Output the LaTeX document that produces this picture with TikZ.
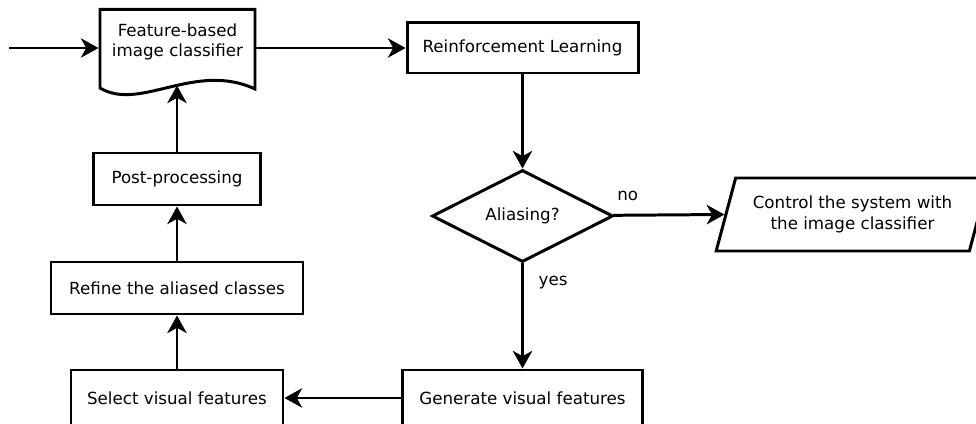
\documentclass[tikz,border=0pt]{standalone}
\usepackage{fontspec}
\setmainfont{DejaVu Sans}
\usetikzlibrary{shapes.geometric,arrows.meta,positioning,calc}

\begin{document}
\begin{tikzpicture}[
    font=\fontsize{9.5}{11.6}\selectfont,
    line width=1.7pt,
    >={Stealth[length=10pt,width=11pt,inset=3pt]},
    stepbox/.style = {rectangle, draw, minimum height=1.04cm, align=center, inner sep=2pt},
    decision/.style = {diamond, draw, minimum width=3.62cm, minimum height=1.84cm, inner sep=0pt, align=center},
    inout/.style = {trapezium, draw, trapezium left angle=70, trapezium right angle=110, trapezium stretches=true, minimum width=5.46cm, minimum height=1.46cm, align=center}
]
    \useasboundingbox (0,0) rectangle (19.52,8.46);
    % Document shape for the classifier
    \node[minimum width=3.1cm, minimum height=1.2cm, align=center] (classifier) at (3.55,7.62) {Feature-based\\image classifier};
    \draw (2.0,6.70) -- (2.0,8.27) -- (5.1,8.27) -- (5.1,6.68)
        .. controls (3.9,7.24) and (2.8,6.22) .. (2.0,6.70) -- cycle;
    \coordinate (classin) at (3.54,6.75);
    \coordinate (start) at (0.18,7.5);
    % Right column
    \node[stepbox, minimum width=4.62cm, minimum height=1.0cm] (rl) at (10.45,7.5) {Reinforcement Learning};
    \node[decision] (alias) at (10.45,4.14) {Aliasing?};
    \node[inout] (control) at (17.05,4.17) {Control the system with\\the image classifier};
    \node[stepbox, minimum width=4.8cm, minimum height=1.12cm] (generate) at (10.45,0.5) {Generate visual features};
    % Left column
    \node[stepbox, minimum width=4.24cm, minimum height=1.12cm] (select) at (3.54,0.5) {Select visual features};
    \node[stepbox, minimum width=5.04cm] (refine) at (3.54,2.7) {Refine the aliased classes};
    \node[stepbox, minimum width=3.34cm] (post) at (3.54,4.88) {Post-processing};
    % Arrows
    \draw[->] (start) -- ([yshift=-0.12cm]classifier.west);
    \draw[->] ([yshift=-0.12cm]classifier.east) -- (rl.west);
    \draw[->] (rl) -- (alias);
    \draw[->] (alias) -- node[pos=0.13, above=4pt] {no} (control.west);
    \draw[->] (alias) -- node[pos=0.18, right=5pt] {yes} (generate);
    \draw[->] (generate) -- (select);
    \draw[->] (select) -- (refine);
    \draw[->] (refine) -- (post);
    \draw[->] (post.north) -- (post.north |- classin);
\end{tikzpicture}
\end{document}
